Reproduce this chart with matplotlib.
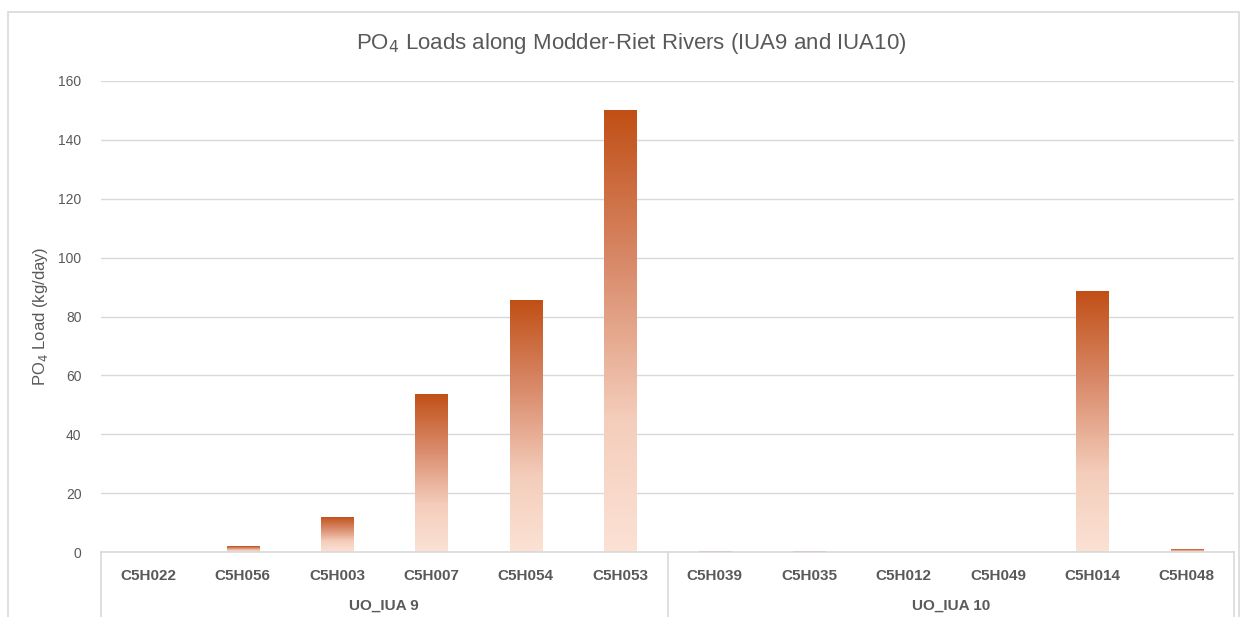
import matplotlib
matplotlib.use("Agg")
import matplotlib.pyplot as plt
import numpy as np
from matplotlib import font_manager
from matplotlib.colors import LinearSegmentedColormap
from matplotlib.lines import Line2D
from matplotlib.patches import Rectangle
import matplotlib.transforms as mtransforms

# ── data ────────────────────────────────────────────────────────────────────
stations = ["C5H022", "C5H056", "C5H003", "C5H007", "C5H054", "C5H053",
            "C5H039", "C5H035", "C5H012", "C5H049", "C5H014", "C5H048"]
po4_load = [0.0, 2.0, 12.0, 53.8, 85.7, 150.2,
            0.3, 0.3, 0.0, 0.0, 88.8, 1.0]
groups = ["UO_IUA 9", "UO_IUA 10"]
group_sizes = [6, 6]

# ── styling ─────────────────────────────────────────────────────────────────
installed = {f.name for f in font_manager.fontManager.ttflist}
narrow = "Liberation Sans Narrow" if "Liberation Sans Narrow" in installed else "Liberation Sans"
plt.rcParams["font.family"] = ["Liberation Sans", "DejaVu Sans"]
text_col = "#595959"
grid_col = "#D9D9D9"
bar_cmap = LinearSegmentedColormap.from_list(
    "peach_rust", [(0.0, "#FBE2D5"), (0.3, "#F4CDBB"), (0.65, "#D98A6A"), (1.0, "#C04F15")])

W, H = 1242, 617
fig = plt.figure(figsize=(W / 100, H / 100), dpi=100)
ax = fig.add_axes([101 / W, 1 - 552 / H, 1133 / W, 471 / H])

x = np.arange(len(stations))
bars = ax.bar(x, po4_load, width=0.34, color="none", zorder=2)

# per-bar vertical gradient, light at the base, dark at the top
grad = np.linspace(0, 1, 256).reshape(-1, 1)
for b in bars:
    h = b.get_height()
    if h <= 0:
        continue
    x0 = b.get_x()
    im = ax.imshow(grad, cmap=bar_cmap, origin="lower", aspect="auto",
                   extent=(x0, x0 + b.get_width(), 0, h), zorder=2)
    im.set_clip_path(b)

ax.set_xlim(-0.5, len(stations) - 0.5)
ax.set_ylim(0, 160)
ax.set_yticks(np.arange(0, 161, 20))
ax.yaxis.grid(True, color=grid_col, linewidth=1)
ax.set_axisbelow(True)
for side in ("top", "right", "left"):
    ax.spines[side].set_visible(False)
ax.spines["bottom"].set_color(grid_col)
ax.spines["bottom"].set_linewidth(1.2)
ax.tick_params(axis="y", length=0, pad=14, labelsize=10, labelcolor=text_col)
ax.tick_params(axis="x", length=0, pad=12)
ax.set_xticks(x)
ax.set_xticklabels(stations, fontsize=11, fontweight="bold", color=text_col,
                   family=[narrow, "DejaVu Sans"])

ax.set_ylabel("PO$_4$ Load (kg/day)", fontsize=12, color=text_col, labelpad=6)

# two-level category axis: group separators and group labels
trans = mtransforms.blended_transform_factory(ax.transData, ax.transAxes)
edges = np.concatenate([[0], np.cumsum(group_sizes)]) - 0.5
for e in edges:
    ax.add_line(Line2D([e, e], [0, -0.2], transform=trans, color=grid_col,
                       linewidth=1.2, clip_on=False))
for g, lo, hi in zip(groups, edges[:-1], edges[1:]):
    ax.text((lo + hi) / 2, -54 / 471, g, transform=trans, ha="center", va="center",
            fontsize=11, fontweight="bold", color=text_col,
            family=[narrow, "DejaVu Sans"])

fig.text(0.508, 1 - 44 / H, "PO$_4$ Loads along Modder-Riet Rivers (IUA9 and IUA10)",
         ha="center", va="center", fontsize=16, color=text_col)

# outer chart frame
fig.patches.append(Rectangle((8 / W, -0.1), 1231 / W, 1.1 - 12 / H,
                             transform=fig.transFigure, fill=False,
                             edgecolor=grid_col, linewidth=1.2))

fig.savefig("out.png", dpi=100)
